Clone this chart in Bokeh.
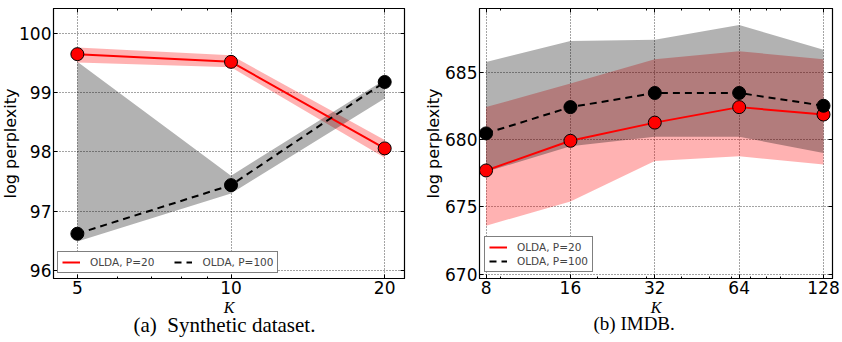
from bokeh.embed import file_html
from bokeh.layouts import row
from bokeh.models import (FixedTicker, Legend, LegendItem, LogAxis,
                          LinearAxis, NumeralTickFormatter, Range1d, Title)
from bokeh.plotting import figure
from bokeh.resources import INLINE

# ---- (a) synthetic dataset: mean log perplexity and band limits per K ----
syn_k = [5, 10, 20]
syn_p20 = [99.65, 99.52, 98.06]
syn_p20_lo = [99.51, 99.43, 97.90]
syn_p20_hi = [99.76, 99.63, 98.20]
syn_p100 = [96.62, 97.44, 99.18]
syn_p100_lo = [96.49, 97.30, 98.90]
syn_p100_hi = [99.52, 97.60, 99.22]
syn_xticks = [5, 10, 20]
syn_xminor = [6, 7, 8, 9]
syn_yticks = [96, 97, 98, 99, 100]

# ---- (b) IMDB ----
imdb_k = [8, 16, 32, 64, 128]
imdb_p20 = [677.7, 679.9, 681.25, 682.4, 681.85]
imdb_p20_lo = [673.6, 675.4, 678.4, 678.75, 678.15]
imdb_p20_hi = [682.4, 684.15, 685.95, 686.55, 685.95]
imdb_p100 = [680.45, 682.4, 683.45, 683.45, 682.5]
imdb_p100_lo = [677.6, 679.5, 680.2, 680.2, 679.0]
imdb_p100_hi = [685.75, 687.3, 687.4, 688.5, 686.65]
imdb_xticks = [8, 16, 32, 64, 128]
imdb_xminor = [9, 20, 30, 40, 50, 60, 70, 80, 90]
imdb_yticks = [670, 675, 680, 685]

series_labels = ["OLDA, P=20", "OLDA, P=100"]
y_title = "log perplexity"
x_title = "K"
captions = ["(a)\u00a0\u00a0Synthetic dataset.", "(b) IMDB."]

SANS = "DejaVu Sans"
SERIF = "Liberation Serif"


def style_axis(ax, show_labels):
    ax.axis_line_color = "black"
    ax.major_tick_in = 4
    ax.major_tick_out = 0
    ax.minor_tick_in = 2
    ax.minor_tick_out = 0
    ax.major_tick_line_color = "black"
    ax.minor_tick_line_color = "black"
    ax.major_label_standoff = 2
    ax.major_label_text_font = SANS
    if show_labels:
        ax.major_label_text_color = "black"
        ax.major_label_text_font_size = "17px"
    else:
        ax.major_label_text_color = None
        ax.major_label_text_font_size = "0px"
        ax.major_label_standoff = 0


def make_panel(k, a, a_lo, a_hi, b, b_lo, b_hi, xr, yr, xticks, xminor,
               yticks, caption, cap_offset, cap_size, width, border_left,
               border_right, ylabel_standoff, legend_loc, legend_orient,
               margin):
    p = figure(width=width, height=342, x_axis_type="log",
               x_range=Range1d(*xr), y_range=Range1d(*yr),
               output_backend="svg", toolbar_location=None,
               min_border_left=border_left, min_border_right=border_right,
               min_border_top=8, min_border_bottom=64, margin=margin)
    p.outline_line_color = "black"
    p.outline_line_width = 1.2
    p.background_fill_color = "white"
    p.border_fill_color = "white"

    xt = FixedTicker(ticks=xticks, minor_ticks=xminor)
    yt = FixedTicker(ticks=yticks, minor_ticks=[])

    xax = p.xaxis[0]
    yax = p.yaxis[0]
    xax.ticker = xt
    xax.formatter = NumeralTickFormatter(format="0")
    yax.ticker = yt
    style_axis(xax, True)
    style_axis(yax, True)
    yax.minor_tick_line_color = None

    xax.axis_label = x_title
    xax.axis_label_text_font = SERIF
    xax.axis_label_text_font_style = "italic"
    xax.axis_label_text_font_size = "16px"
    xax.axis_label_text_color = "black"
    xax.axis_label_standoff = 2

    yax.axis_label = y_title
    yax.axis_label_text_font = SANS
    yax.axis_label_text_font_style = "normal"
    yax.axis_label_text_font_size = "16px"
    yax.axis_label_text_color = "black"
    yax.axis_label_standoff = ylabel_standoff

    top = LogAxis(ticker=xt)
    style_axis(top, False)
    p.add_layout(top, "above")
    right = LinearAxis(ticker=yt)
    style_axis(right, False)
    right.minor_tick_line_color = None
    p.add_layout(right, "right")

    for g in (p.xgrid, p.ygrid):
        g.grid_line_color = "black"
        g.grid_line_dash = "1 2"
        g.grid_line_width = 0.9
        g.grid_line_alpha = 0.8
    p.xgrid.ticker = xt
    p.ygrid.ticker = yt

    # spread bands
    p.varea(x=k, y1=a_lo, y2=a_hi, fill_color="red", fill_alpha=0.3)
    p.varea(x=k, y1=b_lo, y2=b_hi, fill_color="black", fill_alpha=0.3)

    # mean curves
    ra = p.line(k, a, line_color="red", line_width=2)
    rb = p.line(k, b, line_color="black", line_width=2, line_dash="7 5")
    p.scatter(k, a, size=13, fill_color="red", line_color="black", line_width=1)
    p.scatter(k, b, size=13, fill_color="black", line_color="black", line_width=1)

    legend = Legend(items=[LegendItem(label=series_labels[0], renderers=[ra]),
                           LegendItem(label=series_labels[1], renderers=[rb])],
                    location=legend_loc, orientation=legend_orient,
                    label_text_font=SANS, label_text_font_size="10.5px",
                    label_height=12, glyph_height=12, glyph_width=18,
                    label_standoff=10,
                    spacing=20 if legend_orient == "horizontal" else 2,
                    padding=4, margin=0, border_line_color="black",
                    border_line_width=1.2, background_fill_alpha=1.0)
    p.add_layout(legend)

    p.add_layout(Title(text=caption, align="left", offset=cap_offset,
                       standoff=-15, text_font=SERIF, text_font_style="normal",
                       text_font_size=cap_size, text_color="black"), "below")
    return p


# left panel is laid out 2px wider and pulled left, so its y label sits
# close to the page edge
left = make_panel(syn_k, syn_p20, syn_p20_lo, syn_p20_hi,
                  syn_p100, syn_p100_lo, syn_p100_hi,
                  (4.49, 21.87), (95.865, 100.42), syn_xticks, syn_xminor,
                  syn_yticks, captions[0], 80, "21px", 423, 51, 17, -4,
                  (4, 5), "horizontal", (0, 0, 0, -2))
right = make_panel(imdb_k, imdb_p20, imdb_p20_lo, imdb_p20_hi,
                   imdb_p100, imdb_p100_lo, imdb_p100_hi,
                   (7.58, 137.8), (669.68, 689.72), imdb_xticks, imdb_xminor,
                   imdb_yticks, captions[1], 114, "19px", 421, 56, 10, -1,
                   (5, 6), "vertical", (0, 0, 0, 0))

layout = row(left, right, spacing=0)
open("out.html", "w").write(file_html(layout, INLINE))
